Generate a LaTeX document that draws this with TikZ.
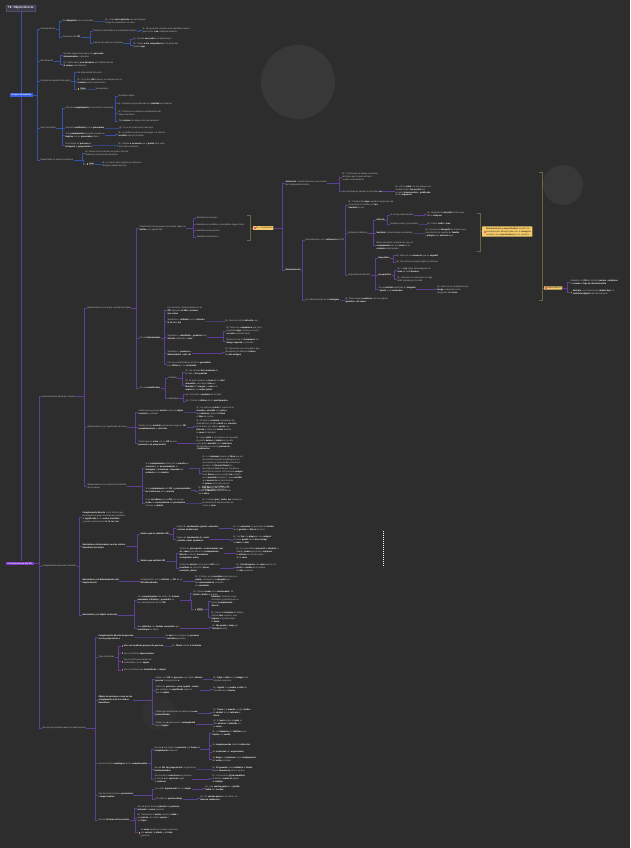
\documentclass[tikz,border=0pt]{standalone}
\usepackage{fontspec}
\setmainfont{Liberation Sans}
\usetikzlibrary{positioning,calc}

\definecolor{bgc}{HTML}{2D2D2D}
\definecolor{circc}{HTML}{383838}
\definecolor{txtc}{HTML}{C4C4C4}
\definecolor{bluel}{HTML}{3453A8}
\definecolor{bluen}{HTML}{3A5EE0}
\definecolor{purpl}{HTML}{5E3F96}
\definecolor{purpn}{HTML}{7D3BC8}
\definecolor{olivl}{HTML}{6E6240}
\definecolor{yelln}{HTML}{F3CB6B}
\definecolor{ydark}{HTML}{3A2A10}
\definecolor{pinki}{HTML}{E2607E}
\definecolor{orani}{HTML}{E8A53A}
\definecolor{titlec}{HTML}{3A3A48}
\definecolor{titleb}{HTML}{50506A}
\definecolor{tagc}{HTML}{4A4A4A}

\newcommand{\ft}{\fontsize{2.2}{2.95}\selectfont}
\newcommand{\fh}{\fontsize{2.9}{3.4}\selectfont\bfseries}
\newcommand{\bb}[1]{{\bfseries\color{white}#1}}
\newcommand{\ic}[1]{\textcolor{#1}{\rule{1.7pt}{1.7pt}}\hspace{0.6pt}}
\newcommand{\tg}[1]{{\setlength{\fboxsep}{0.5pt}\colorbox{tagc}{\color{white}#1}}}
\newcommand{\ml}[1]{\begin{tabular}[c]{@{}l@{}}#1\end{tabular}}
% elbow connector: parent -> bar -> child
\newcommand{\ed}[3][pl]{\draw[#1] (#2.east) -| ([xshift=-3pt]#3.west) -- (#3.west);}

\tikzset{
	tx/.style={anchor=west, inner sep=0.3pt, align=left, text=txtc, font=\ft},
	ynd/.style={anchor=west, fill=yelln, text=ydark, font=\ft, inner sep=0.8pt, align=left, rounded corners=0.4pt},
	ttl/.style={anchor=west, fill=titlec, draw=titleb, line width=0.4pt, text=white, font=\fh, inner xsep=2pt, inner ysep=1.6pt},
	gnd/.style={anchor=west, fill=bluen, text=white, font=\ft\bfseries, inner xsep=1.5pt, inner ysep=0.9pt},
	pnd/.style={anchor=west, fill=purpn, text=white, font=\ft\bfseries, inner xsep=1.5pt, inner ysep=1pt},
	bl/.style={draw=bluel, line width=0.55pt},
	pl/.style={draw=purpl, line width=0.55pt},
	ol/.style={draw=olivl, line width=0.8pt},
}

\begin{document}
\begin{tikzpicture}[x=1pt,y=-1pt]
\fill[bgc] (0,0) rectangle (630,848);
\useasboundingbox (0,0) rectangle (630,848);
\fill[circc] (298,82) circle[radius=37pt];
\fill[circc] (563,185) circle[radius=20pt];
\fill[circc!35!bgc] (159,713) circle[radius=17pt];
\draw[white, line width=0.5pt, dash pattern=on 0.8pt off 1.2pt] (383,531) -- (383,567);

%% main topics
\node[ttl] (tt) at (6,8) {T2: Objeto Directo};
\node[gnd] (gn) at (10,95) {Grupos Nominales};
\node[pnd] (cod) at (6,563.5) {Construcciones del OD};

%% ---------------- grupos nominales
\node[tx] (a1) at (40,29) {Características};
\node[tx] (a11) at (62,21) {Es \bb{obligatorio} en el enunciado};
\node[tx] (a111) at (105,21) {Ej.: Juan \bb{vio la película} con sus amigos.\\Luego la comentaron en casa.};
\node[tx] (a12) at (62,37) {Funciones del \bb{OD}};
\node[tx] (a121) at (93,31) {Puede ser sustituido por pronombres átonos};
\node[tx] (a1211) at (142,30.5) {Ej.: Me gustaría comprar unas zapatillas nuevas\\para correr. \bb{Las} compraré mañana.};
\node[tx] (a122) at (93,43) {Pasa a ser sujeto en la pasiva};
\node[tx] (a1221) at (133,39) {Ej.: Escribí \bb{una carta} a mi abuela ayer.};
\node[tx] (a1222) at (133,45.5) {Ej.: Vimos \bb{a tus compañeros} en la plaza del\\pueblo \bb{ayer}.};
\node[tx] (a2) at (40,61) {Identificación};
\node[tx] (a21) at (63,55) {No lleva preposición salvo con \bb{personas}\\\bb{determinadas} o animales};
\node[tx] (a22) at (63,64.5) {Ej.: Pedro llamó \bb{a su hermano} por teléfono desde\\\bb{el campo} esta mañana.};
\node[tx] (a3) at (40,81) {Formas de aparición del objeto};
\node[tx] (a31) at (77,72.5) {Se sitúa detrás del verbo};
\node[tx] (a32) at (77,81) {Ej.: Si no hay \bb{OD} expreso, se recupera por el\\\bb{contexto} de la conversación.};
\node[tx] (a33) at (77,89) {\ic{orani}\tg{Tabla}};
\node[tx] (a331) at (95,89) {Ver ejemplos};
\node[tx] (a4) at (40,128) {Usos del objeto};
\node[tx] (a41) at (65,108) {Caso de \bb{complemento} en la oración compuesta};
\node[tx] (a411) at (118,96) {No define objeto};
\node[tx] (a412) at (118,103.5) {Ej.: Expresó lo que pensaba con \bb{claridad} a los demás};
\node[tx] (a413) at (118,113) {Ej.: Tenía en su cartera los documentos del\\viaje y las llaves.};
\node[tx] (a414) at (118,121) {Tras \bb{verbos} de lengua y de pensamiento};
\node[tx] (a42) at (65,128) {Caso de \bb{sustitución} por el \bb{pronombre}};
\node[tx] (a421) at (119,128) {Ej.: Lo vi en la casa de Lucas ayer};
\node[tx] (a43) at (65,135.5) {Si el \bb{complemento} precede al verbo se\\\bb{duplica} con un \bb{pronombre} átono};
\node[tx] (a431) at (118,134.5) {Ej.: A Andrés lo vieron en el parque. La carta la\\\bb{escribió} ayer por la tarde.};
\node[tx] (a44) at (65,145) {Si el objeto es \bb{persona} se\\\bb{antepone} la \bb{preposición} a};
\node[tx] (a441) at (118,145) {Ej.: Saludó \bb{a su vecino} en el \bb{portal} de la casa\\esta misma mañana.};
\node[tx] (a5) at (40,160) {Puede faltar en verbos transitivos};
\node[tx] (a51) at (85,153) {Ej.: Mario come a las dos en punto; Ana lee\\todas las noches antes de dormir.};
\node[tx] (a52) at (86,164) {\ic{orani}\tg{Nota}};
\node[tx] (a521) at (102,164.5) {Ej.: Lo vieron ellos (sujeto) y lo llamaron\\después (objeto directo).};

%% ---------------- construcciones: caracteristicas
\node[tx] (m1) at (42,396.5) {Características del grupo nominal};
\node[tx] (m2) at (42,566) {Complementos del verbo transitivo};
\node[tx] (m3) at (42,728) {Uso de la preposición \bb{a} con el objeto directo};
\node[tx] (m11) at (87,308) {Relacionado con el grupo nominal del objeto};
\node[tx] (m12) at (87,427) {Relacionado con el significado del verbo};
\node[tx] (m13) at (87,486) {Relacionado con la estructura sintáctica\\de la oración};
\node[tx] (m111) at (139,228.5) {Clasificación de los grupos nominales según su\\\bb{núcleo} y su significado};
\node[tx] (m1111) at (196,218) {Sustantivos comunes};
\node[tx] (m1112) at (196,224.5) {Sustantivos contables o incontables (agua, libro)};
\node[tx] (m1113) at (196,230.5) {Sustantivos de persona};
\node[tx] (m1114) at (196,237) {Sustantivos abstractos};
\node[tx] (m112) at (139,338) {Con el \bb{determinante}};
\node[tx] (m1121) at (167,310.5) {Los artículos o determinantes en el\\\bb{OD}: ejemplos \bb{el libro}, \bb{la mesa},\\\bb{ese coche}};
\node[tx] (m1122) at (167,321) {Sustantivo + \bb{definido} con un \bb{artículo}\\\bb{el}, \bb{la}, \bb{los}, \bb{las}};
\node[tx] (m11221) at (225,321) {Ej.: Busca el sobre \bb{del sello} rojo};
\node[tx] (m1123) at (167,337) {Sustantivo + \bb{indefinido} o \bb{genérico} con\\\bb{artículo} indefinido o \bb{cero}};
\node[tx] (m11231) at (226,331) {Ej.: Busca un \bb{compañero} que haya\\estudiado \bb{algo}. Quiero un coche\\\bb{con aire} acondicionado.};
\node[tx] (m11232) at (226,341.5) {Quiero uno de los \bb{hermanos}, un\\\bb{amigo} \bb{especial} y conocido};
\node[tx] (m1124) at (167,353) {Sustantivo + \bb{posesivo} o\\\bb{demostrativo}: \bb{este}, \bb{mi}};
\node[tx] (m11241) at (225,352) {Ej.: Recuerdo a mi compañero que\\buscaba en la biblioteca \bb{libros}\\de \bb{arte antiguo}};
\node[tx] (m1125) at (167,364) {Con los cuantificadores el OD se \bb{generaliza}\\y se \bb{define} por su \bb{contenido}};
\node[tx] (m113) at (139,388) {Con el \bb{cuantificador}};
\node[tx] (m1131) at (168,378) {Cardinal};
\node[tx] (m11311) at (185,372.5) {Ej.: Ha cerrado \bb{dos ventanas} de\\la casa y \bb{tres puertas}};
\node[tx] (m11312) at (185,385.5) {Ej.: El juez condenó a \bb{cinco} de los \bb{diez}\\\bb{acusados}, pero dejó a \bb{tres} en\\\bb{libertad} con \bb{cargos} y a \bb{dos} a la\\\bb{espera} de un \bb{nuevo juicio}.};
\node[tx] (m1132) at (168,398.5) {Ordinales};
\node[tx] (m11321) at (186,394.5) {Ej.: Encontró al \bb{primero} de los diez};
\node[tx] (m11322) at (186,401) {Ej.: Premió al \bb{último} de los \bb{participantes}};
\node[tx] (m121) at (138,412) {Verbos que expresan \bb{acción} sobre un \bb{objeto}\\\bb{concreto} y material};
\node[tx] (m1211) at (196,412) {Ej.: La profesora \bb{pintó} el cuadro en la\\\bb{escuela} y \bb{escribió} una \bb{carta} a\\sus \bb{alumnos}; después \bb{firmó}\\el \bb{libro} de visitas.};
\node[tx] (m122) at (138,427) {Verbos con un \bb{sentido} general que exige un \bb{OD}\\\bb{complementario} y \bb{concreto}};
\node[tx] (m1221) at (196,426.5) {Ej.: El alumno \bb{resolvió} el problema de\\matemáticas; la niña \bb{cantó} una \bb{canción}\\en la fiesta y el abuelo \bb{contó} una\\\bb{historia} a todos sus \bb{nietos} durante\\la \bb{cena} de Navidad.};
\node[tx] (m123) at (138,443.5) {Verbos que se \bb{usan} con un \bb{OD} de una\\\bb{persona} (\bb{con preposición})};
\node[tx] (m1231) at (196,443.5) {Ej.: Ayer \bb{visité} a mis abuelos en el pueblo;\\la policía \bb{detuvo} al \bb{ladrón} en la calle\\y el médico \bb{atendió} a los \bb{enfermos}\\del hospital con mucha \bb{paciencia}\\y \bb{dedicación}.};
\node[tx] (m131) at (145,468) {Si el \bb{complemento} directo de la \bb{oración} es\\\bb{concreto} y se \bb{pronominaliza}, el\\\bb{sintagma} se \bb{mantiene} y \bb{depende} del\\\bb{contexto} de la \bb{oración}};
\node[tx] (m1311) at (202,473.5) {Ej.: Los \bb{alumnos} leyeron el \bb{libro} que les\\recomendó la profesora; \bb{lo} leyeron en\\una semana y después \bb{lo} comentaron\\en clase. El \bb{director} \bb{firmó} los\\documentos; \bb{los} firmó por la mañana\\antes de la reunión. Mi hermana \bb{compró}\\unas \bb{flores} para su amiga; \bb{las} compró\\en el \bb{mercado} del barrio. Juan \bb{escribió}\\una \bb{novela}; \bb{la} escribió durante\\el \bb{verano} en la casa de sus\\padres, cerca del \bb{mar}, y \bb{la}\\publicó al año siguiente.};
\node[tx] (m132) at (145,490) {Si el \bb{complemento} del \bb{OD} se \bb{pronominaliza}\\\bb{en el discurso} de la \bb{oración}};
\node[tx] (m1321) at (198,491) {Ej.: \bb{Ese libro} ya \bb{lo} he leído dos\\veces; \bb{a María} \bb{la} conozco desde\\hace \bb{años}.};
\node[tx] (m133) at (145,503) {Si se \bb{coordinan} varios \bb{OD} con un solo\\\bb{verbo}, la \bb{concordancia} del \bb{pronombre}\\se hace en \bb{plural}};
\node[tx] (m1331) at (202,503) {Ej.: Compré \bb{pan} y \bb{leche}; \bb{los} compré en\\la tienda de la esquina antes de\\volver a \bb{casa}.};

%% ---------------- complementos del verbo
\node[tx] (m21) at (82,517.5) {\bb{Complemento directo}: es la función que\\desempeña el grupo nominal que completa\\el \bb{significado} de un \bb{verbo transitivo}\\y puede sustituirse por \bb{lo}, \bb{la}, \bb{los}, \bb{las}.};
\node[tx] (m22) at (82,546.5) {\bb{Sustantivos relacionados con los verbos}\\\bb{transitivos del verbo}};
\node[tx] (m221) at (140,534) {\bb{Verbos que no admiten OD}};
\node[tx] (m2211) at (176,528.5) {Verbos de \bb{sentimiento} (\bb{gustar}, \bb{encantar})\\y \bb{verbos de afección}};
\node[tx] (m22111) at (233,528.5) {Ej.: Le \bb{encantan} las películas de \bb{acción};\\no le \bb{gustan} los \bb{libros} de terror.};
\node[tx] (m2212) at (176,539.5) {Verbos de \bb{movimiento} (\bb{ir}, \bb{venir})\\y \bb{estado} (\bb{estar}, \bb{quedarse})};
\node[tx] (m22121) at (233,540) {Ej.: Se \bb{fue} a la \bb{playa} con sus \bb{amigos}.\\La casa \bb{quedó} vacía \bb{tras el viaje}\\al \bb{cabo} del \bb{año}.};
\node[tx] (m222) at (140,561) {\bb{Verbos que admiten OD}};
\node[tx] (m2221) at (179,553.5) {Verbos de \bb{percepción} o \bb{conocimiento} (\bb{ver},\\\bb{oír}, \bb{saber}) que llevan un \bb{complemento}\\\bb{directo} u oración \bb{sustantiva}\\(\bb{comprobar}, \bb{notar})};
\node[tx] (m22211) at (236,553) {Ej.: La comunidad \bb{reconoció} al \bb{alcalde} su\\trabajo; \bb{vimos} que llovía y \bb{supimos}\\la \bb{noticia} por la radio antes\\de la \bb{cena}.};
\node[tx] (m2222) at (179,568) {Verbos de \bb{acción} en los que el \bb{OD} es el\\\bb{resultado} de la acción (\bb{hacer},\\\bb{construir}, \bb{pintar})};
\node[tx] (m22221) at (236,567.5) {Ej.: \bb{Construyeron} una \bb{casa} junto al río;\\\bb{pintó} un \bb{retrato} de su madre\\en \bb{dos} semanas.};
\node[tx] (m23) at (82,581.5) {\bb{Sustantivos y la determinación del}\\\bb{objeto directo}};
\node[tx] (m231) at (140,581.5) {Complemento con el \bb{artículo}: el \bb{CD} de un\\\bb{OD} \bb{determinado}};
\node[tx] (m2311) at (195,581.5) {Ej.: Prefiero a un \bb{novelista} antes que a un\\\bb{poeta}; contrataron al \bb{abogado} que\\les \bb{recomendaron} y buscan\\un \bb{secretario}.};
\node[tx] (m24) at (82,615) {\bb{Sustantivos y el objeto oracional}};
\node[tx] (m241) at (137,600) {Con \bb{complementos} del verbo, las \bb{formas}\\\bb{nominales} (\bb{infinitivo} y \bb{gerundio}) en\\los complementos de los \bb{OD}};
\node[tx] (m2411) at (193,593) {Ej.: Quiero \bb{comer} en el \bb{restaurante}. Sé\\\bb{pintar} y \bb{bailar} muy bien.};
\node[tx] (m2412) at (194,609.5) {\ic{orani}\tg{Tabla}};
\node[tx] (m24121) at (211,601) {\bb{Infinitivo}: funciona como\\sustantivo y puede llevar su\\propio \bb{complemento}\\\bb{directo}.};
\node[tx] (m24122) at (211,617) {Ej.: Necesito \bb{terminar} el trabajo;\\prefiero \bb{leer} novelas; odio\\\bb{esperar} el autobús bajo\\la \bb{lluvia}.};
\node[tx] (m242) at (137,628) {Sus \bb{atributos} son \bb{formas nominales} que\\\bb{constituyen} el objeto};
\node[tx] (m2421) at (212,627.5) {Ej.: \bb{Me gusta} el \bb{viaje} que\\\bb{hicimos} juntos.};

%% ---------------- uso de la preposicion a
\node[tx] (m31) at (98,637) {\bb{Complemento directo de persona}\\\bb{con la preposición a}};
\node[tx] (m311) at (165,637) {Se \bb{usa} ante nombres de \bb{persona}\\o \bb{animales} queridos};
\node[tx] (m32) at (98,657) {Tipos de formas};
\node[tx] (m321) at (121,646) {\ic{pinki}\bb{Uso con nombres propios de persona}};
\node[tx] (m3211) at (172,646) {Ej.: \bb{Mario} saludó \bb{a la abuela}};
\node[tx] (m322) at (121,653.5) {\ic{pinki}Uso con formas \bb{impersonales}};
\node[tx] (m323) at (121,661.5) {\ic{pinki}\ml{Uso con OD que pueden ser\\confundidos con el \bb{sujeto}}};
\node[tx] (m324) at (121,670) {\ic{pinki}Uso con formas que \bb{intensifican} el \bb{objeto}};
\node[tx] (m33) at (98,700) {\bb{Objeto de persona o cosa en los}\\\bb{complementos de los verbos}\\\bb{transitivos}};
\node[tx] (m331) at (155,679.5) {Verbos con \bb{OD} de \bb{persona} cuyo objeto \bb{directo}\\\bb{precisa} la preposición \bb{a}};
\node[tx] (m3311) at (213,679) {Ej.: \bb{Dejó} al \bb{niño} en el \bb{colegio} esta\\mañana temprano.};
\node[tx] (m332) at (155,690) {Verbos de \bb{persona} o \bb{cosa} (\bb{ayudar}, \bb{contar})\\que cambian su \bb{significado} según el\\tipo de \bb{objeto}};
\node[tx] (m3321) at (213,689) {Ej.: \bb{Ayudó} a su \bb{madre}; \bb{contó} las\\monedas de la \bb{hucha}.};
\node[tx] (m333) at (155,713) {Verbos que admiten \bb{a} con objetos de \bb{cosa}\\\bb{personificada}};
\node[tx] (m3331) at (213,712.5) {Ej.: \bb{Teme} a la \bb{muerte}; el agua \bb{baña} a\\la \bb{ciudad}; el sol \bb{calienta} la\\\bb{tierra}.};
\node[tx] (m334) at (155,724.5) {Verbos con \bb{a} para evitar la \bb{ambigüedad}\\con el \bb{sujeto}};
\node[tx] (m3341) at (213,724) {Ej.: El \bb{perro} sigue al \bb{gato}; el\\tren \bb{alcanzó} al \bb{autobús} en\\la \bb{curva}.};
\node[tx] (m34) at (98,763.5) {Uso de la forma \bb{analógica} de los \bb{complementos}};
\node[tx] (m341) at (154,749) {Se usa \bb{a} con objeto de \bb{persona} y la \bb{forma} de\\\bb{complemento} indirecto};
\node[tx] (m3411) at (212,733) {Ej.: Le \bb{llamaron} por \bb{teléfono} a su\\\bb{madre} con \bb{cariño}.};
\node[tx] (m3412) at (212,745) {Se \bb{complementan} objetos \bb{indirectos}};
\node[tx] (m3413) at (212,752) {Se \bb{recuerdan} sus \bb{expresiones}};
\node[tx] (m3414) at (212,759) {Se \bb{dirige} a la \bb{persona} como \bb{complemento}\\del \bb{verbo} principal};
\node[tx] (m342) at (154,769) {Se usa \bb{OD} \bb{sin preposición} con personas\\\bb{indeterminadas}};
\node[tx] (m3421) at (212,769) {Ej.: \bb{El general} envió \bb{soldados} al \bb{frente};\\busco \bb{camareros} para el verano.};
\node[tx] (m343) at (154,779) {Con nombres \bb{colectivos} de personas\\el uso de \bb{a} es \bb{opcional} según\\el \bb{contexto}};
\node[tx] (m3431) at (212,778.5) {Ej.: Convocaron \bb{(a) la asamblea};\\el director \bb{reunió} \bb{al} equipo\\de \bb{trabajo}.};
\node[tx] (m35) at (98,795) {Uso de construcciones \bb{personales}\\e \bb{impersonales}};
\node[tx] (m351) at (155,789) {Un verbo \bb{impersonal} con su \bb{objeto}};
\node[tx] (m3511) at (205,788.5) {Ej.: Hay \bb{mucha gente} en el \bb{jardín};\\\bb{había} dos \bb{coches}.};
\node[tx] (m352) at (155,799) {Un verbo en \bb{pasiva refleja}};
\node[tx] (m3521) at (200,798.5) {Ej.: Se \bb{venden} \bb{pisos} en el centro; se\\\bb{buscan} \bb{camareros}.};
\node[tx] (m36) at (98,820) {Uso de \bb{la forma de los verbos}};
\node[tx] (m361) at (137,808.5) {Uso de \bb{a} con formas \bb{plurales} de \bb{persona},\\\bb{animales} o \bb{seres} queridos};
\node[tx] (m362) at (137,818) {Ej.: Saludamos a \bb{varios} vecinos; \bb{cuida} a\\sus \bb{perros} con cariño; \bb{quiere} a\\sus \bb{hijos}.};
\node[tx] (m363) at (138,832.5) {\ic{orani}\ml{Se \bb{usan} ejemplos con \bb{a} en oraciones\\con \bb{verbos} de \bb{afecto} y de \bb{trato}\\personal.}};

%% ---------------- determinacion (derecha)
\node[ynd] (y1) at (253,228) {\ic{pinki}Ej.: Clasificación};
\node[tx] (r1) at (285,183) {\bb{Actuación}: cuando funciona como núcleo\\del complemento directo};
\node[tx] (r11) at (342,177) {Ej.: Yo hice que el trabajo se hiciese\\de forma que la tarea se llevó\\a cabo correctamente.};
\node[tx] (r12) at (342,191.5) {Se construye en pasiva con el verbo \bb{ser}};
\node[tx] (r121) at (395,191) {Ej.: Arturo \bb{salió} con sus amigos a la\\ciudad; el libro \bb{fue escrito} por\\un autor \bb{desconocido} y \bb{publicado}\\al año \bb{siguiente}.};
\node[tx] (r2) at (285,270) {\bb{Determinación}};
\node[tx] (r21) at (305,240) {Denominación: es la \bb{referencia} del OD};
\node[tx] (r211) at (348,205) {Ej.: Comprendo \bb{algo} cuando lo tengo que dar\\en la mesa; lo escribo y lo \bb{leo}\\\bb{mientras} lo veo.};
\node[tx] (r212) at (348,233) {Relación sintáctica};
\node[tx] (r2121) at (376,220) {\bb{Artículo}};
\node[tx] (r21211) at (390,215) {Si no hay determinante};
\node[tx] (r212111) at (427,214.5) {Ej.: Alejandro le \bb{devolvió} el libro que\\iba a \bb{comprar}.};
\node[tx] (r21212) at (390,224) {Nombre propio y pronombre};
\node[tx] (r212121) at (427,224) {Ej.: Pedro \bb{visitó} a \bb{Ana}};
\node[tx] (r2122) at (376,233) {\bb{Sustituto}: determinantes sustituidos};
\node[tx] (r21221) at (425,233) {Ej.: Conozco al \bb{abogado} de Carmen que\\mencionó en la reunión de \bb{familia}\\y \bb{amigos} que \bb{vinieron} ayer.};
\node[tx] (r2123) at (376,245.5) {Reconocimiento: indicador de que un\\\bb{complemento} de una \bb{clase} es un\\\bb{contexto} determinado};
\node[tx] (r213) at (348,275) {Especificación del OD};
\node[tx] (r2131) at (378,258) {\bb{Específico}};
\node[tx] (r21311) at (396,255.5) {Ej.: Busco a un \bb{camarero} que es \bb{español}};
\node[tx] (r21312) at (396,262) {Ej.: No conoce a ningún inglés en el barrio};
\node[tx] (r2132) at (378,275) {\bb{Inespecífico}};
\node[tx] (r21321) at (397,270) {Ej.: Yo \bb{no} tengo dinero \bb{ni} para mi\\\bb{casa} de las \bb{Canarias}.};
\node[tx] (r21322) at (397,279.5) {Ej.: Necesito un coche que no haga\\ruido al pasar por la calle.};
\node[tx] (r2133) at (378,289) {Con el \bb{artículo} indefinido en \bb{singular}\\o \bb{plural} y un \bb{sustantivo}};
\node[tx] (r21331) at (437,289.5) {Ej.: Busco a un compañero que\\\bb{tenga} respuestas a mis\\preguntas del \bb{curso}.};
\node[tx] (r22) at (305,300) {Por determinación en el \bb{sintagma}};
\node[tx] (r221) at (345,300) {Ej.: Busca algún \bb{cuaderno} con las páginas\\\bb{grandes} y \bb{sin rayas}.};
\node[ynd, inner xsep=1.6pt] (y2) at (482,231.5) {\ic{pinki}\ml{\textbf{Determinación y especificidad}: existen los\\complementos determinados por el \textbf{sintagma}\\nominal y los \textbf{especificados} por el contexto}};
\node[ynd] (y3) at (544,288) {\ic{pinki}Determinación};
\node[tx] (r31) at (570,282.5) {Indicador: el \bb{OD} del núcleo, \bb{hechos} y \bb{atributos}\\se \bb{suman} al \bb{tipo de determinación}};
\node[tx] (r32) at (570,292) {\ic{orani}\ml{\bb{Artículo}: en oraciones del \bb{mismo tipo}, el\\\bb{sustituto} \bb{adjunto} del determinante}};

%% ---------------- connectors
\draw[bl] (tt.south) -- (tt.south |- gn.north);
\draw[pl] (tt.south |- gn.south) -- (tt.south |- cod.north);

\ed[bl]{gn}{a1} \ed[bl]{gn}{a2} \ed[bl]{gn}{a3} \ed[bl]{gn}{a4} \ed[bl]{gn}{a5}
\ed[bl]{a1}{a11} \ed[bl]{a1}{a12} \ed[bl]{a11}{a111}
\ed[bl]{a12}{a121} \ed[bl]{a12}{a122} \ed[bl]{a121}{a1211}
\ed[bl]{a122}{a1221} \ed[bl]{a122}{a1222}
\ed[bl]{a2}{a21} \ed[bl]{a2}{a22}
\ed[bl]{a3}{a31} \ed[bl]{a3}{a32} \ed[bl]{a3}{a33} \ed[bl]{a33}{a331}
\ed[bl]{a4}{a41} \ed[bl]{a4}{a42} \ed[bl]{a4}{a43} \ed[bl]{a4}{a44}
\ed[bl]{a41}{a411} \ed[bl]{a41}{a412} \ed[bl]{a41}{a413} \ed[bl]{a41}{a414}
\ed[bl]{a42}{a421} \ed[bl]{a43}{a431} \ed[bl]{a44}{a441}
\ed[bl]{a5}{a51} \ed[bl]{a5}{a52} \ed[bl]{a52}{a521}

\ed{cod}{m1} \ed{cod}{m2} \ed{cod}{m3}
\ed{m1}{m11} \ed{m1}{m12} \ed{m1}{m13}
\ed{m11}{m111} \ed{m11}{m112} \ed{m11}{m113}
\foreach \c in {m1111,m1112,m1113,m1114} {\ed{m111}{\c}}
\foreach \c in {m1121,m1122,m1123,m1124,m1125} {\ed{m112}{\c}}
\ed{m1122}{m11221} \ed{m1123}{m11231} \ed{m1123}{m11232} \ed{m1124}{m11241}
\ed{m113}{m1131} \ed{m113}{m1132}
\ed{m1131}{m11311} \ed{m1131}{m11312} \ed{m1132}{m11321} \ed{m1132}{m11322}
\ed{m12}{m121} \ed{m12}{m122} \ed{m12}{m123}
\ed{m121}{m1211} \ed{m122}{m1221} \ed{m123}{m1231}
\ed{m13}{m131} \ed{m13}{m132} \ed{m13}{m133}
\ed{m131}{m1311} \ed{m132}{m1321} \ed{m133}{m1331}

\ed{m2}{m21} \ed{m2}{m22} \ed{m2}{m23} \ed{m2}{m24}
\ed{m22}{m221} \ed{m22}{m222}
\ed{m221}{m2211} \ed{m221}{m2212} \ed{m2211}{m22111} \ed{m2212}{m22121}
\ed{m222}{m2221} \ed{m222}{m2222} \ed{m2221}{m22211} \ed{m2222}{m22221}
\ed{m23}{m231} \ed{m231}{m2311}
\ed{m24}{m241} \ed{m24}{m242}
\ed{m241}{m2411} \ed{m241}{m2412} \ed{m2412}{m24121} \ed{m2412}{m24122}
\ed{m242}{m2421}

\ed{m3}{m31} \ed{m3}{m32} \ed{m3}{m33} \ed{m3}{m34} \ed{m3}{m35} \ed{m3}{m36}
\ed{m31}{m311}
\foreach \c in {m321,m322,m323,m324} {\ed{m32}{\c}}
\ed{m321}{m3211}
\foreach \c in {m331,m332,m333,m334} {\ed{m33}{\c}}
\ed{m331}{m3311} \ed{m332}{m3321} \ed{m333}{m3331} \ed{m334}{m3341}
\ed{m34}{m341} \ed{m34}{m342} \ed{m34}{m343}
\foreach \c in {m3411,m3412,m3413,m3414} {\ed{m341}{\c}}
\ed{m342}{m3421} \ed{m343}{m3431}
\ed{m35}{m351} \ed{m35}{m352} \ed{m351}{m3511} \ed{m352}{m3521}
\ed{m36}{m361} \ed{m36}{m362} \ed{m36}{m363}

\ed{y1}{r1} \ed{y1}{r2}
\ed{r1}{r11} \ed{r1}{r12} \ed{r12}{r121}
\ed{r2}{r21} \ed{r2}{r22} \ed{r22}{r221}
\ed{r21}{r211} \ed{r21}{r212} \ed{r21}{r213}
\ed{r212}{r2121} \ed{r212}{r2122} \ed{r212}{r2123}
\ed{r2121}{r21211} \ed{r2121}{r21212}
\ed{r21211}{r212111} \ed{r21212}{r212121} \ed{r2122}{r21221}
\ed{r213}{r2131} \ed{r213}{r2132} \ed{r213}{r2133}
\ed{r2131}{r21311} \ed{r2131}{r21312}
\ed{r2132}{r21321} \ed{r2132}{r21322} \ed{r2133}{r21331}
\ed{y3}{r31} \ed{y3}{r32}

% summary brackets
\draw[ol] (247,215) -- (250,215) -- (250,240) -- (247,240);
\draw[ol] (250,228) -- (y1.west);
\draw[ol] (477,213) -- (480,213) -- (480,251) -- (477,251);
\draw[ol] (480,231.5) -- (y2.west);
\draw[ol] (539,172) -- (542,172) -- (542,300) -- (539,300);
\draw[ol] (542,288) -- (y3.west);
\end{tikzpicture}
\end{document}
